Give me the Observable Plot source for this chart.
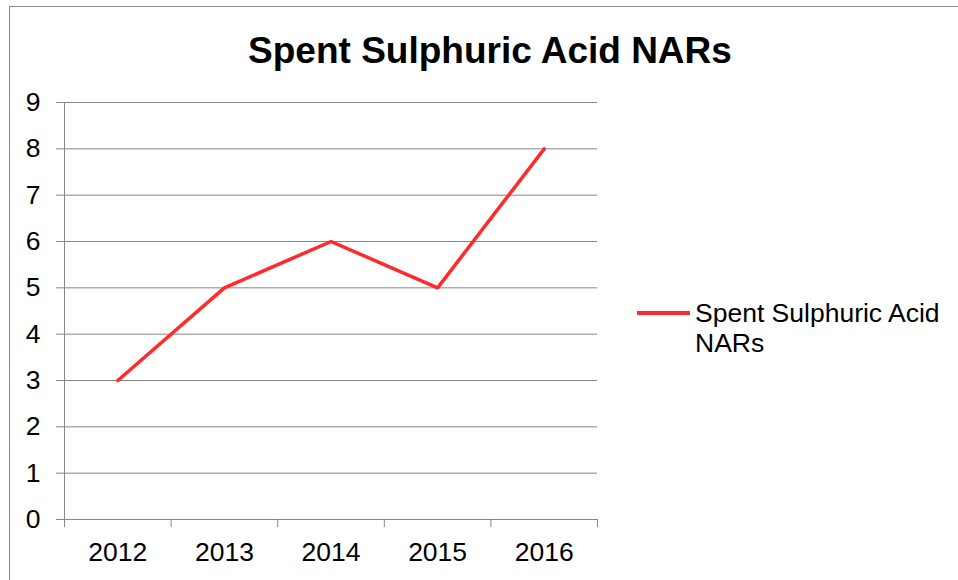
<!DOCTYPE html>
<html>
<head>
<meta charset="utf-8">
<script src="https://cdn.jsdelivr.net/npm/d3@7"></script>
<script src="https://cdn.jsdelivr.net/npm/@observablehq/plot@0.6"></script>
<style>
  html, body { margin: 0; padding: 0; background: #fff; }
  #wrap { position: relative; width: 958px; height: 580px; overflow: hidden; font-family: "Liberation Sans", Arial, sans-serif; }
  #border { position: absolute; left: 9px; top: 6px; width: 1200px; height: 900px; border-left: 1px solid #8a8a8a; border-top: 1px solid #8a8a8a; box-sizing: border-box; pointer-events: none; }
  #title { height: 80px; box-sizing: border-box; padding-top: 32px; line-height: 37px; font-size: 37px; font-weight: bold; text-align: center; padding-left: 22px; color: #000; white-space: nowrap; }
  #chart svg { display: block; }
  #legend { position: absolute; left: 637px; top: 298px; }
  #legend .swatch { position: absolute; left: 0; top: 13px; width: 53px; height: 4px; background: #ff2a2a; }
  #legend .label { position: absolute; left: 58px; top: 0; font-size: 26.5px; line-height: 30px; color: #000; white-space: nowrap; }
</style>
</head>
<body>
<div id="wrap">
  <div id="title"></div>
  <div id="chart"></div>
  <div id="legend"><div class="swatch"></div><div class="label"></div></div>
  <div id="border"></div>
</div>
<script>
const titleText = "Spent Sulphuric Acid NARs";
const seriesName = ["Spent Sulphuric Acid", "NARs"];
const years = [2012, 2013, 2014, 2015, 2016];
const values = [3, 5, 6, 5, 8];
const yTicks = [0, 1, 2, 3, 4, 5, 6, 7, 8, 9];

const data = years.map((yr, i) => ({year: yr, value: values[i]}));
const bounds = years.map(y => y - 0.5).concat([years[years.length - 1] + 0.5]);

document.getElementById("title").textContent = titleText;
document.querySelector("#legend .label").innerHTML = seriesName.join("<br>");

const grid = "#868686";
const chart = Plot.plot({
  width: 958,
  height: 500,
  marginTop: 22,
  marginBottom: 61,
  marginLeft: 64,
  marginRight: 361,
  x: {type: "linear", domain: [bounds[0], bounds[bounds.length - 1]]},
  y: {domain: [0, 9]},
  style: {fontFamily: "'Liberation Sans', Arial, sans-serif", fontSize: "26.5px", color: "#000", background: "#fff", overflow: "visible"},
  marks: [
    Plot.gridY(yTicks, {stroke: grid, strokeOpacity: 1}),
    Plot.ruleX([bounds[0]], {stroke: grid, strokeOpacity: 1}),
    Plot.axisY(yTicks, {tickSize: 8, tickPadding: 16, stroke: grid, strokeOpacity: 1, fill: "#000", label: null, tickFormat: d => String(d)}),
    Plot.axisX(bounds, {tickSize: 8, tickFormat: () => "", stroke: grid, strokeOpacity: 1, label: null}),
    Plot.axisX(years, {tickSize: 0, tickPadding: 23, fill: "#000", label: null, tickFormat: d => String(d)}),
    Plot.lineY(data, {x: "year", y: "value", stroke: "#ff2a2a", strokeWidth: 3.5, strokeLinejoin: "miter"})
  ]
});
document.getElementById("chart").appendChild(chart);
</script>
</body>
</html>
